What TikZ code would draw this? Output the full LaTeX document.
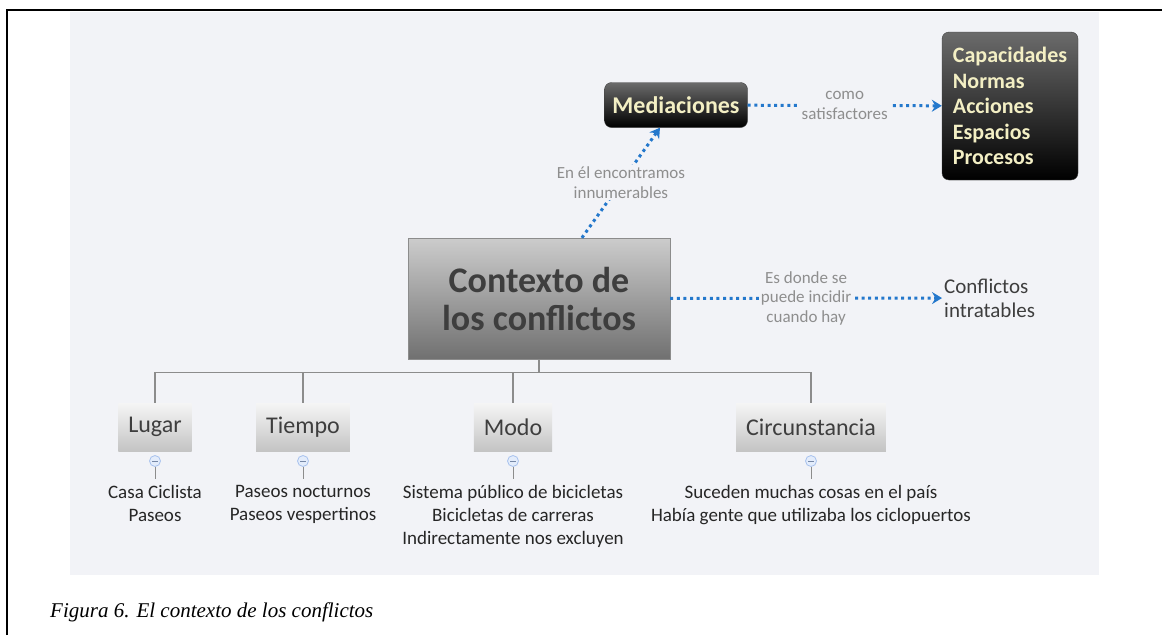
\documentclass[tikz,border=0pt]{standalone}
\usepackage{fontspec}
\setmainfont{Liberation Serif}
\newfontfamily\mapfont{Carlito}
\usetikzlibrary{arrows.meta}

\definecolor{panelbg}{HTML}{F2F3F7}
\definecolor{linkblue}{HTML}{2478CC}
\definecolor{notegray}{HTML}{8E8E8E}
\definecolor{cream}{HTML}{F3EFC4}
\definecolor{inkgray}{HTML}{3E3E3E}
\definecolor{togglerim}{HTML}{A8C2EE}
\definecolor{togglefill}{HTML}{E3ECFB}

\tikzset{
  centralbox/.style={draw=black!45, top color=black!20, bottom color=black!56, minimum width=262pt, minimum height=121pt, align=center, text=inkgray, font=\mapfont\bfseries\fontsize{36}{38}\selectfont},
  darkbox/.style={draw=black!75, rounded corners=7pt, top color=black!58, bottom color=black, text=cream, font=\mapfont\bfseries\fontsize{22}{25.5}\selectfont},
  branchbox/.style={top color=black!4, bottom color=black!23, minimum height=48pt, inner xsep=10pt, text=inkgray, font=\mapfont\fontsize{24}{26}\selectfont},
  leaftext/.style={anchor=north, inner xsep=0pt, inner ysep=6pt, align=center, text=black!85, font=\mapfont\fontsize{19}{23}\selectfont},
  note/.style={fill=panelbg, inner sep=2pt, align=center, text=notegray, font=\mapfont\fontsize{17}{19.5}\selectfont},
  dotlink/.style={draw=linkblue, line width=3pt, dash pattern=on 3pt off 3.6pt, -{Stealth[length=10pt,width=12pt,inset=3.5pt]}},
  treeline/.style={draw=black!45, line width=1.3pt},
  toggle/.style={circle, draw=togglerim, fill=togglefill, line width=0.8pt, minimum size=11pt, inner sep=0pt,
    path picture={\draw[togglerim!70!black, line width=0.9pt] ([xshift=-3pt]path picture bounding box.center) -- ([xshift=3pt]path picture bounding box.center);}}
}

\begin{document}
\begin{tikzpicture}[x=1pt,y=1pt]
\useasboundingbox (0,0) rectangle (1162,-635);
\fill[panelbg] (70,-12) rectangle (1099,-575);
\draw[line width=2pt] (7,-635) -- (7,-10) -- (1162,-10);

\node[centralbox] (ctx) at (539,-298.5) {Contexto de\\los conflictos};
\node[darkbox, minimum width=143pt, minimum height=45pt, font=\mapfont\bfseries\fontsize{24}{26}\selectfont] (med) at (676,-105) {Mediaciones};
\node[darkbox, minimum width=136pt, minimum height=148pt, align=left] (sat) at (1010,-106) {Capacidades\\Normas\\Acciones\\Espacios\\Procesos};
\node[anchor=west, inner sep=2pt, align=left, text=inkgray, font=\mapfont\fontsize{21}{24}\selectfont] (intr) at (942,-298) {Conflictos\\intratables};

\draw[dotlink] (ctx) -- node[note] {En él encontramos\\innumerables} (med);
\draw[dotlink] (med) -- node[note] {como\\satisfactores} (sat);
\draw[dotlink] (ctx) -- node[note] {Es donde se\\puede incidir\\cuando hay} (intr);

\coordinate (hub) at ([yshift=-13pt]ctx.south);
\draw[treeline] (ctx) -- (hub);
\foreach \n/\x/\t in {lug/155/Lugar, tie/303/Tiempo, mod/513/Modo, cir/811/Circunstancia} {
  \node[branchbox] (\n) at (\x,-427) {\t};
  \draw[treeline] (hub) -| (\n);
  \node[toggle] (\n-t) at (\x,-461) {};
}
\node[leaftext] (lug-l) at (155,-479) {Casa Ciclista\\Paseos};
\node[leaftext] (tie-l) at (303,-479) {Paseos nocturnos\\Paseos vespertinos};
\node[leaftext] (mod-l) at (513,-479) {Sistema público de bicicletas\\Bicicletas de carreras\\Indirectamente nos excluyen};
\node[leaftext] (cir-l) at (811,-479) {Suceden muchas cosas en el país\\Había gente que utilizaba los ciclopuertos};
\foreach \n in {lug,tie,mod,cir}
  \draw[draw=black!45, line width=1pt] (\n-t) -- (\n-l);

\node[anchor=base west, inner sep=0pt, font=\itshape\fontsize{21}{24}\selectfont] (caption) at (50,-617) {Figura 6. El contexto de los conflictos};
\end{tikzpicture}
\end{document}
